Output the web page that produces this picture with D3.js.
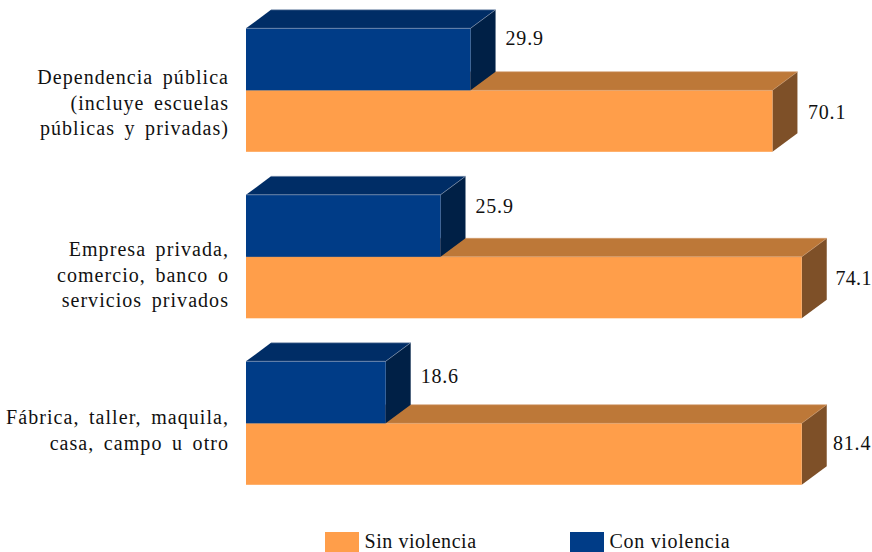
<!DOCTYPE html>
<html><head><meta charset="utf-8">
<script src="https://cdn.jsdelivr.net/npm/d3@7"></script>
<style>html,body{margin:0;padding:0;background:#fff}svg{display:block}text{font-family:"Liberation Serif",serif;fill:#111}</style>
</head><body><svg id="c" width="872" height="552"></svg>
<script>
const categories = ["Dependencia pública","Empresa privada","Fábrica"];
const categoryLines = [
  ["Dependencia pública","(incluye escuelas","públicas y privadas)"],
  ["Empresa privada,","comercio, banco o","servicios privados"],
  ["Fábrica, taller, maquila,","casa, campo u otro"]
];
const conViolencia = [29.9,25.9,18.6];
const conLabels = ["29.9","25.9","18.6"];
// Printed values for "Sin violencia"
const sinLabels = ["70.1","74.1","81.4"];
// Bar lengths as drawn in the picture: the third bar is drawn about as long as the second, not to 81.4
const sinViolenciaDrawn = [70.1,74.0,74.0];
const legendItems = ["Sin violencia","Con violencia"];

const svg = d3.select("#c");
const x = d3.scaleLinear().domain([0,100]).range([246,997]);
const y = d3.scaleBand().domain(categories).range([28.3,527.8]).paddingInner(0).paddingOuter(0);
const barH = 62, dx = 25, dy = 18.5;
const pal = {
  sin:{front:"#ff9e4a",top:"#bd7838",side:"#7e5028",edge:"#d09a6c"},
  con:{front:"#003c87",top:"#002d66",side:"#002046",edge:"#8a9bb5"}
};
function box(g,x0,x1,yt,h,p){
  const pts=a=>a.map(d=>d.join(",")).join(" ");
  g.append("polygon").attr("points",pts([[x0,yt],[x0+dx,yt-dy],[x1+dx,yt-dy],[x1,yt]])).attr("fill",p.top);
  g.append("polygon").attr("points",pts([[x1,yt],[x1+dx,yt-dy],[x1+dx,yt-dy+h],[x1,yt+h]])).attr("fill",p.side);
  g.append("rect").attr("x",x0).attr("y",yt).attr("width",x1-x0).attr("height",h).attr("fill",p.front);
  g.append("path").attr("d",`M${x0},${yt}L${x1},${yt}L${x1+dx},${yt-dy}L${x0+dx},${yt-dy}`).attr("fill","none").attr("stroke",p.edge).attr("stroke-width",0.6);
}
const conLabelY=[45,213,383], sinLabelY=[119,284.5,450], sinLabelX=[808,835.5,833], sinLabelSpacing=[0.8,0.3,0.8];
const catY=[84,256,424];
categories.forEach((c,i)=>{
  const g=svg.append("g");
  const t=y(c);
  box(g,x(0),x(sinViolenciaDrawn[i]),t+barH,barH-0.5,pal.sin);
  box(g,x(0),x(conViolencia[i]),t,barH,pal.con);
  g.append("text").attr("font-size",20).attr("letter-spacing",0.8).attr("x",x(conViolencia[i])+35).attr("y",conLabelY[i]).text(conLabels[i]);
  g.append("text").attr("font-size",20).attr("letter-spacing",sinLabelSpacing[i]).attr("x",sinLabelX[i]).attr("y",sinLabelY[i]).text(sinLabels[i]);
  categoryLines[i].forEach((l,j)=>g.append("text").attr("x",229).attr("y",catY[i]+j*25.7).attr("text-anchor","end")
    .attr("font-size",20).attr("letter-spacing",1.05).attr("word-spacing",3.5).text(l));
});
const lx=[325,570];
legendItems.forEach((l,i)=>{
  svg.append("rect").attr("x",lx[i]).attr("y",532).attr("width",34).attr("height",20).attr("fill",i?pal.con.front:pal.sin.front);
  svg.append("text").attr("x",lx[i]+39.5).attr("y",548).attr("font-size",20).attr("letter-spacing",i?0.7:0.55).text(l);
});
</script></body></html>
